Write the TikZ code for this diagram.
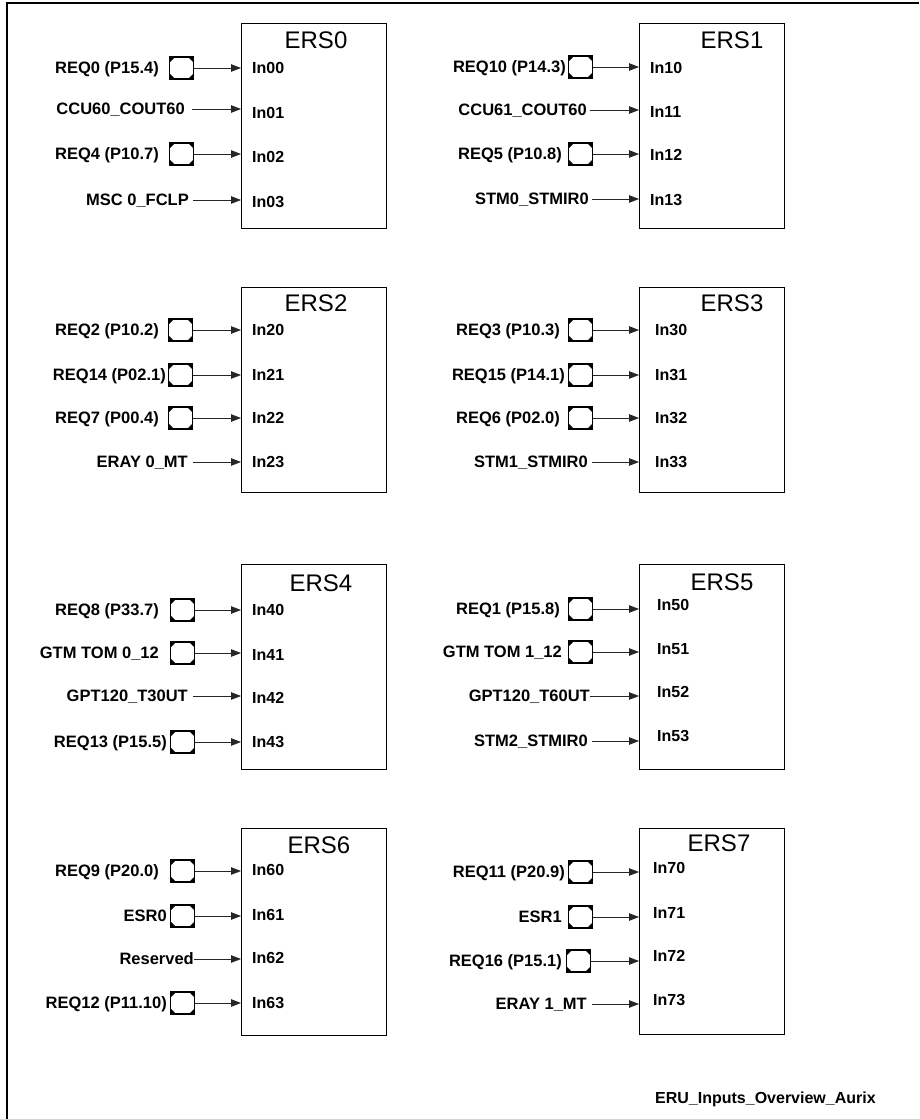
\documentclass[tikz,border=0pt]{standalone}
\usepackage{fontspec}
\setmainfont{Liberation Sans}
\usetikzlibrary{arrows.meta}
\tikzset{
  frameline/.style={line width=1.5pt},
  ersbox/.style={draw, line width=1.3pt, minimum width=145pt, minimum height=205pt, anchor=north west, inner sep=0pt},
  erstitle/.style={font=\fontsize{24}{26}\selectfont, inner sep=0pt},
  sig/.style={font=\bfseries\fontsize{16.5}{19}\selectfont, anchor=east, inner sep=0pt, text height=11.8pt, text depth=0pt},
  inl/.style={font=\bfseries\fontsize{16}{19}\selectfont, anchor=west, inner sep=0pt, text height=11.5pt, text depth=0pt},
  sigarrow/.style={draw=black!85, line width=0.8pt, -{Triangle[length=10pt,width=7.5pt]}},
  pinbox/.style={draw, line width=1.3pt, minimum width=24pt, minimum height=22pt, inner sep=0pt, anchor=west,
    path picture={
      \fill (path picture bounding box.north west) -- ++(5.5pt,0pt) -- ++(-5.5pt,-5.5pt) -- cycle;
      \fill (path picture bounding box.north east) -- ++(-5.5pt,0pt) -- ++(5.5pt,-5.5pt) -- cycle;
      \fill (path picture bounding box.south west) -- ++(5.5pt,0pt) -- ++(-5.5pt,5.5pt) -- cycle;
      \fill (path picture bounding box.south east) -- ++(-5.5pt,0pt) -- ++(5.5pt,5.5pt) -- cycle;
    }},
}
% #1 id, #2 label right x, #3 pin left x, #4 y, #5 text, #6 box
\newcommand\pinrow[6]{%
  \node[pinbox] (#1p) at (#3,#4) {};
  \node[sig] (#1l) at (#2,#4) {#5};
  \draw[sigarrow] (#1p.east) -- (#1p.east -| #6.west);}
% #1 id, #2 label right x, #3 line start x, #4 y, #5 text, #6 box
\newcommand\linerow[6]{%
  \node[sig] (#1l) at (#2,#4) {#5};
  \draw[sigarrow] ([xshift={(#3-#2)*1pt}]#1l.east) -- (#1l.east -| #6.west);}
\begin{document}
\begin{tikzpicture}[x=1pt,y=-1pt]
\useasboundingbox (0,0) rectangle (919,1119);
\draw[frameline] (7,1119) -- (7,3) -- (919,3);

% boxes
\node[ersbox] (ers0) at (241,23) {};
\node[ersbox] (ers1) at (639,23) {};
\node[ersbox] (ers2) at (241,287) {};
\node[ersbox] (ers3) at (639,287) {};
\node[ersbox] (ers4) at (241,564) {};
\node[ersbox] (ers5) at (639,564) {};
\node[ersbox, minimum height=207pt] (ers6) at (241,828) {};
\node[ersbox, minimum height=206pt] (ers7) at (639,828) {};

% titles
\node[erstitle] (t0) at (316,40) {ERS0};
\node[erstitle] (t1) at (732,40) {ERS1};
\node[erstitle] (t2) at (316,303) {ERS2};
\node[erstitle] (t3) at (732,303) {ERS3};
\node[erstitle] (t4) at (321,583) {ERS4};
\node[erstitle] (t5) at (722,582) {ERS5};
\node[erstitle] (t6) at (319,845) {ERS6};
\node[erstitle] (t7) at (719,843) {ERS7};

% ERS0
\pinrow{a0}{159}{169}{68}{REQ0 (P15.4)}{ers0}
\linerow{a1}{185}{192}{109}{CCU60\_COUT60}{ers0}
\pinrow{a2}{159}{169}{154}{REQ4 (P10.7)}{ers0}
\linerow{a3}{189}{193}{200}{MSC 0\_FCLP}{ers0}
\node[inl] (i00) at (252,68) {In00};
\node[inl] (i01) at (252,113) {In01};
\node[inl] (i02) at (252,157) {In02};
\node[inl] (i03) at (252,202) {In03};

% ERS1
\pinrow{b0}{566}{568}{67}{REQ10 (P14.3)}{ers1}
\linerow{b1}{587}{590}{110}{CCU61\_COUT60}{ers1}
\pinrow{b2}{562}{568}{154}{REQ5 (P10.8)}{ers1}
\linerow{b3}{589}{592}{199}{STM0\_STMIR0}{ers1}
\node[inl] (i10) at (650,68) {In10};
\node[inl] (i11) at (650,112) {In11};
\node[inl] (i12) at (650,155) {In12};
\node[inl] (i13) at (650,200) {In13};

% ERS2
\pinrow{c0}{159}{168}{330}{REQ2 (P10.2)}{ers2}
\pinrow{c1}{166}{168}{375}{REQ14 (P02.1)}{ers2}
\pinrow{c2}{159}{168}{418}{REQ7 (P00.4)}{ers2}
\linerow{c3}{188}{193}{462}{ERAY 0\_MT}{ers2}
\node[inl] (i20) at (252,330) {In20};
\node[inl] (i21) at (252,375) {In21};
\node[inl] (i22) at (252,418) {In22};
\node[inl] (i23) at (252,462) {In23};

% ERS3
\pinrow{d0}{560}{568}{330}{REQ3 (P10.3)}{ers3}
\pinrow{d1}{565}{568}{375}{REQ15 (P14.1)}{ers3}
\pinrow{d2}{560}{568}{418}{REQ6 (P02.0)}{ers3}
\linerow{d3}{588}{592}{462}{STM1\_STMIR0}{ers3}
\node[inl] (i30) at (655,330) {In30};
\node[inl] (i31) at (655,375) {In31};
\node[inl] (i32) at (655,418) {In32};
\node[inl] (i33) at (655,462) {In33};

% ERS4
\pinrow{e0}{159}{170}{610}{REQ8 (P33.7)}{ers4}
\pinrow{e1}{159}{170}{653}{GTM TOM 0\_12}{ers4}
\linerow{e2}{188}{193}{696}{GPT120\_T30UT}{ers4}
\pinrow{e3}{167}{170}{742}{REQ13 (P15.5)}{ers4}
\node[inl] (i40) at (252,610) {In40};
\node[inl] (i41) at (252,655) {In41};
\node[inl] (i42) at (252,698) {In42};
\node[inl] (i43) at (252,742) {In43};

% ERS5
\pinrow{f0}{560}{568}{609}{REQ1 (P15.8)}{ers5}
\pinrow{f1}{562}{568}{652}{GTM TOM 1\_12}{ers5}
\linerow{f2}{590}{590}{696}{GPT120\_T60UT}{ers5}
\linerow{f3}{588}{592}{741}{STM2\_STMIR0}{ers5}
\node[inl] (i50) at (657,605) {In50};
\node[inl] (i51) at (657,649) {In51};
\node[inl] (i52) at (657,692) {In52};
\node[inl] (i53) at (657,736) {In53};

% ERS6
\pinrow{g0}{159}{170}{871}{REQ9 (P20.0)}{ers6}
\pinrow{g1}{167}{170}{916}{ESR0}{ers6}
\linerow{g2}{194}{194}{959}{Reserved}{ers6}
\pinrow{g3}{167}{170}{1003}{REQ12 (P11.10)}{ers6}
\node[inl] (i60) at (252,870) {In60};
\node[inl] (i61) at (252,915) {In61};
\node[inl] (i62) at (252,958) {In62};
\node[inl] (i63) at (252,1003) {In63};

% ERS7
\pinrow{h0}{565}{568}{872}{REQ11 (P20.9)}{ers7}
\pinrow{h1}{562}{568}{917}{ESR1}{ers7}
\pinrow{h2}{562}{566}{961}{REQ16 (P15.1)}{ers7}
\linerow{h3}{587}{592}{1004}{ERAY 1\_MT}{ers7}
\node[inl] (i70) at (653,868) {In70};
\node[inl] (i71) at (653,913) {In71};
\node[inl] (i72) at (653,956) {In72};
\node[inl] (i73) at (653,1000) {In73};

\node[inl] (foot) at (655,1098) {ERU\_Inputs\_Overview\_Aurix};
\end{tikzpicture}
\end{document}
